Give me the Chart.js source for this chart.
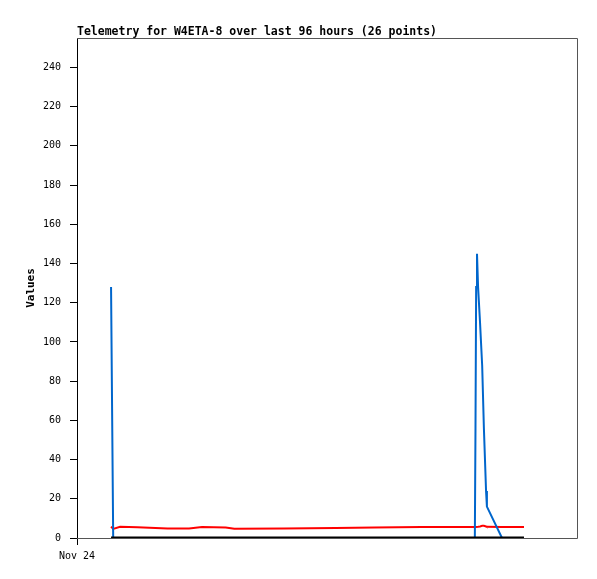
<!DOCTYPE html>
<html>
<head>
<meta charset="utf-8">
<script src="https://cdn.jsdelivr.net/npm/chart.js@4/dist/chart.umd.min.js"></script>
<style>
  html, body { margin: 0; padding: 0; background: #fff; }
  canvas { display: block; }
</style>
</head>
<body>
<canvas id="telemetryChart" width="597" height="579"></canvas>
<script>
// hours since Nov 24 00:00 for each of the 26 telemetry packets
const hours = [7.9, 8.4, 10.0, 14.0, 21.0, 26.0, 29.0, 34.5, 36.5, 48.0, 60.0, 69.0, 80.0,
  86.0, 92.3, 92.45, 92.6, 92.8, 93.05, 93.5, 94.0, 94.4, 94.9, 95.1, 98.6, 103.7];

// telemetry channels
const blueValues = [128, 0, 0, 0, 0, 0, 0, 0, 0, 0, 0, 0, 0,
  0, 0, 56, 128, 145, 128, 110, 88, 56, 24, 16, 0, 0];
const redValues = [5.8, 4.6, 5.7, 5.5, 4.8, 4.8, 5.6, 5.4, 4.7, 4.8, 5.1, 5.3, 5.6,
  5.6, 5.6, 5.6, 5.6, 5.6, 5.7, 5.9, 6.2, 6.2, 5.9, 5.7, 5.6, 5.6];
const blackValues = [0, 0, 0, 0, 0, 0, 0, 0, 0, 0, 0, 0, 0,
  0, 0, 0, 0, 0, 0, 0, 0, 0, 0, 0, 0, 0];

// axis ticks
const xTickValues = [0];
const xTickLabels = ["Nov 24"];
const yTicks = [0, 20, 40, 60, 80, 100, 120, 140, 160, 180, 200, 220, 240];

const chartTitle = "Telemetry for W4ETA-8 over last 96 hours (26 points)";

const toPoints = (vals) => vals.map((v, i) => ({ x: hours[i], y: v }));

// frame (top / right / bottom) and title text
const framePlugin = {
  id: "frame",
  beforeDatasetsDraw(chart) {
    const { ctx, chartArea: a } = chart;
    ctx.save();
    ctx.strokeStyle = "#555";
    ctx.lineWidth = 1;
    ctx.beginPath();
    ctx.moveTo(a.left, a.top + 0.5);
    ctx.lineTo(a.right + 0.5, a.top + 0.5);
    ctx.lineTo(a.right + 0.5, a.bottom + 0.5);
    ctx.lineTo(a.left, a.bottom + 0.5);
    ctx.stroke();
    ctx.restore();
  },
  afterDraw(chart) {
    const { ctx, chartArea: a } = chart;
    ctx.save();
    ctx.fillStyle = "#000";
    ctx.font = "bold 11.5px 'DejaVu Sans Mono'";
    ctx.textAlign = "left";
    ctx.textBaseline = "alphabetic";
    ctx.fillText(chartTitle, a.left, a.top - 3);
    ctx.restore();
  }
};

const ctx = document.getElementById("telemetryChart").getContext("2d");

new Chart(ctx, {
  type: "line",
  data: {
    datasets: [
      {
        label: "black",
        data: toPoints(blackValues),
        borderColor: "#000000",
        borderWidth: 3,
        order: 0
      },
      {
        label: "blue",
        data: toPoints(blueValues),
        borderColor: "#0066cc",
        borderWidth: 2,
        order: 1
      },
      {
        label: "red",
        data: toPoints(redValues),
        borderColor: "#ff0000",
        borderWidth: 2,
        order: 2
      }
    ]
  },
  options: {
    responsive: false,
    animation: false,
    elements: { point: { radius: 0 }, line: { tension: 0, fill: false } },
    layout: { padding: { left: 21, right: 20, top: 38, bottom: 0 } },
    plugins: {
      legend: { display: false },
      tooltip: { enabled: false },
      title: { display: false }
    },
    scales: {
      x: {
        type: "linear",
        min: 0,
        max: 116,
        afterFit: (s) => { s.height = 41; },
        afterBuildTicks: (s) => { s.ticks = xTickValues.map((v) => ({ value: v })); },
        ticks: {
          color: "#000",
          font: { family: "'DejaVu Sans Mono'", size: 10 },
          padding: 5,
          maxRotation: 0,
          callback: (v) => xTickLabels[xTickValues.indexOf(v)]
        },
        grid: { drawOnChartArea: false, drawTicks: true, tickLength: 7, color: "#000" },
        border: { display: false }
      },
      y: {
        type: "linear",
        min: 0,
        max: 255,
        afterFit: (s) => { s.width = 56; },
        afterBuildTicks: (s) => { s.ticks = yTicks.map((v) => ({ value: v })); },
        ticks: {
          color: "#000",
          font: { family: "'DejaVu Sans Mono'", size: 10 },
          padding: 9
        },
        grid: { drawOnChartArea: false, drawTicks: true, tickLength: 7, color: "#000" },
        border: { display: true, color: "#000", width: 1 },
        title: {
          display: true,
          text: "Values",
          color: "#000",
          font: { family: "'DejaVu Sans Mono'", size: 11, weight: "bold" }
        }
      }
    }
  },
  plugins: [framePlugin]
});
</script>
</body>
</html>
